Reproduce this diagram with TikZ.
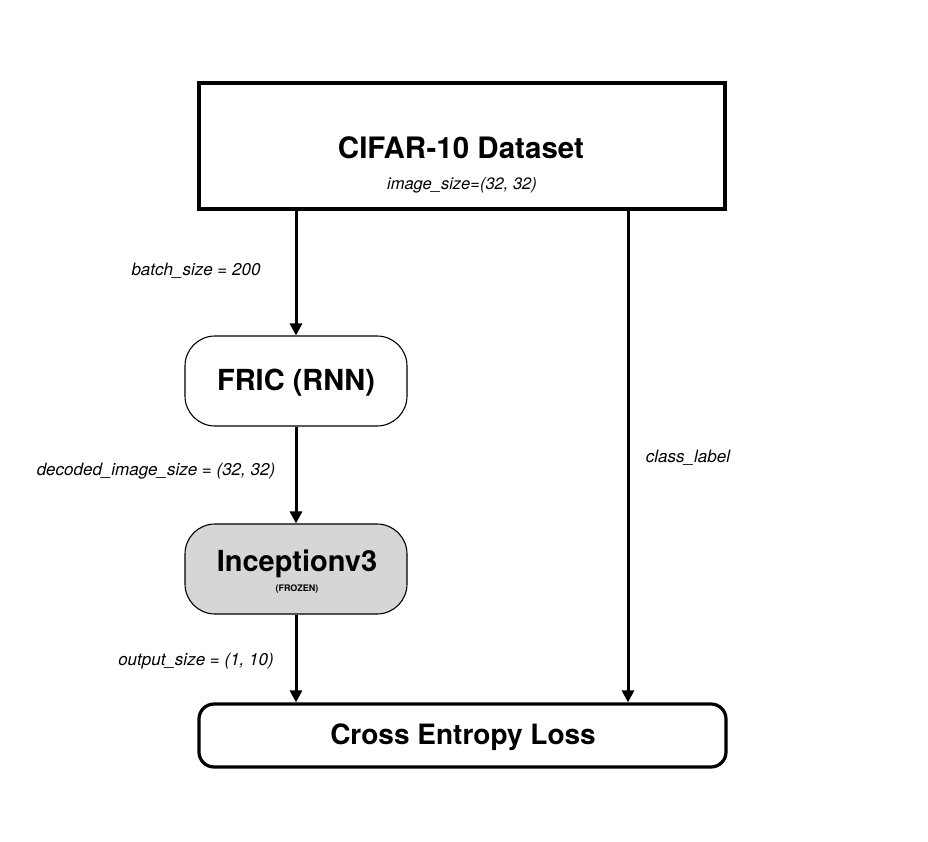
\documentclass[tikz,border=0pt]{standalone}
\usepackage{fontspec}
\setmainfont{TeX Gyre Heros}
\usetikzlibrary{arrows.meta}
\begin{document}
\begin{tikzpicture}[x=1pt,y=-1pt,
  thickbox/.style={draw, line width=3.2pt, inner sep=0pt},
  softbox/.style={draw, line width=1.1pt, rounded corners=30pt, inner sep=0pt, minimum width=222pt, minimum height=90pt},
  titletext/.style={font=\fontsize{29}{33}\selectfont\bfseries, inner sep=0pt},
  lbl/.style={font=\fontsize{17}{20}\selectfont\itshape, inner sep=0pt},
  arr/.style={line width=3pt, -{Triangle[length=12pt,width=12pt]}}
]
\useasboundingbox (0,0) rectangle (928,842);
\fill[white] (0,0) rectangle (928,842);
% boxes
\node[thickbox, minimum width=526pt, minimum height=126pt] (cifar) at (462,146) {};
\node[titletext, font=\fontsize{29.5}{33}\selectfont\bfseries] (cifartitle) at (461,147.5) {CIFAR-10 Dataset};
\node[lbl, font=\fontsize{16.5}{20}\selectfont\itshape] (cifarsize) at (462,185) {image\_size=(32, 32)};
\node[softbox] (fric) at (296,381) {};
\node[titletext] (frictext) at (296,383) {FRIC (RNN)};
\node[softbox, fill={rgb,255:red,214;green,214;blue,214}] (incep) at (296,569) {};
\node[titletext] (inceptext) at (297,564) {Inceptionv3};
\node[font=\fontsize{9}{10}\selectfont\bfseries, inner sep=0pt] (frozen) at (297,589) {(FROZEN)};
\node[thickbox, rounded corners=15pt, minimum width=527pt, minimum height=63pt] (loss) at (462.5,735.5) {};
\node[titletext, font=\fontsize{28}{32}\selectfont\bfseries] (losstext) at (463,737) {Cross Entropy Loss};
% connectors
\coordinate (rx) at (628,0);
\draw[arr] (cifar.south -| fric.north) -- (fric.north);
\draw[arr] (fric.south) -- (incep.north);
\draw[arr] (incep.south) -- (incep.south |- loss.north);
\draw[arr] (cifar.south -| rx) -- (loss.north -| rx);
% labels
\node[lbl] (l1) at (196,271) {batch\_size = 200};
\node[lbl] (l2) at (156,471) {decoded\_image\_size = (32, 32)};
\node[lbl] (l3) at (196,661) {output\_size = (1, 10)};
\node[lbl] (l4) at (688,458) {class\_label};
\end{tikzpicture}
\end{document}
